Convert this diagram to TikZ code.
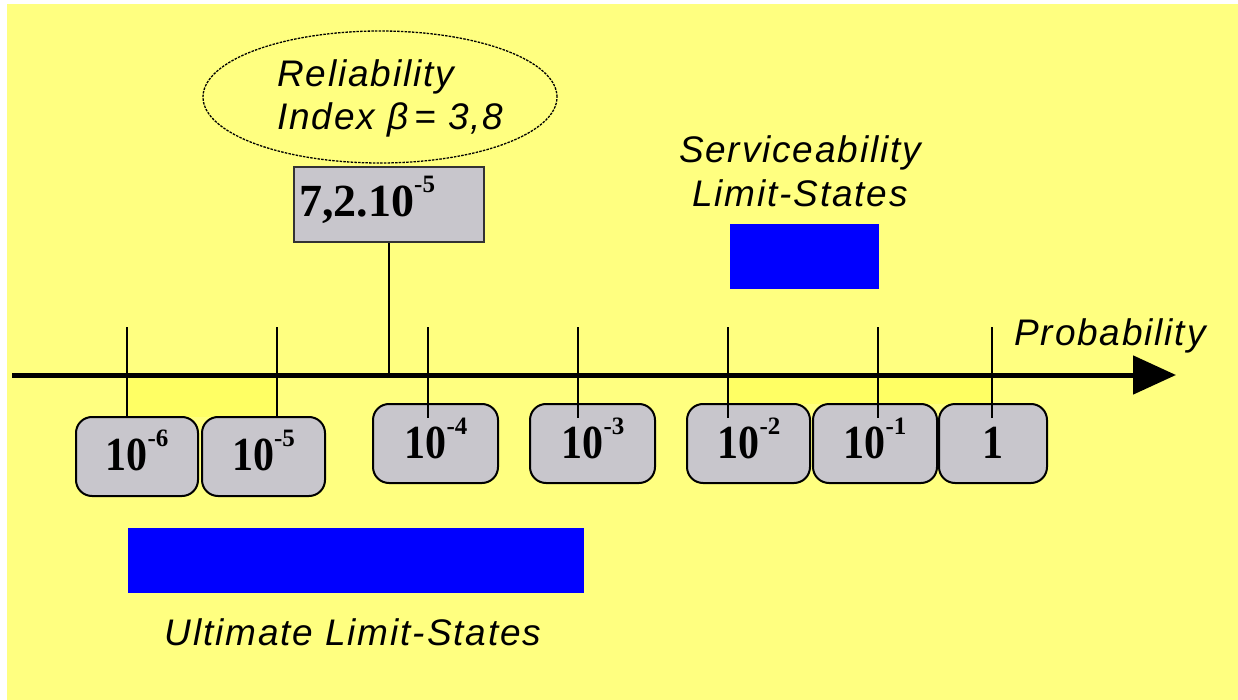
\documentclass[tikz,border=0pt]{standalone}
\usepackage{fontspec}
\setmainfont{Liberation Serif}
\setsansfont{Liberation Sans}[LetterSpace=5]
\usetikzlibrary{shapes.geometric,arrows.meta}
\definecolor{bgyellow}{RGB}{255,255,128}
\definecolor{hiyellow}{RGB}{255,255,100}
\definecolor{boxgray}{RGB}{200,198,204}
\newcommand{\supr}[1]{\raisebox{24pt}{\fontsize{25}{25}\selectfont #1}}
\newcommand{\tallnum}[1]{\scalebox{1}[1.13]{#1}}
\begin{document}
\begin{tikzpicture}[x=1pt,y=-1pt,
  probbox/.style={draw=black,line width=2pt,fill=boxgray,rounded corners=16pt,minimum height=79pt,inner sep=0pt},
  numtext/.style={font=\fontsize{42}{42}\selectfont\bfseries,anchor=base,inner sep=0pt},
  labeltext/.style={font=\fontsize{37}{37}\selectfont\sffamily\itshape,inner sep=0pt},
  tickline/.style={line width=2pt},
  bluebar/.style={fill=blue,draw=none,inner sep=0pt}]
\useasboundingbox (0,0) rectangle (1238,700);
\fill[white] (0,0) rectangle (1238,700);
\fill[bgyellow] (7,4) rectangle (1238,700);
\fill[hiyellow] (127,378) rectangle (277,417);
\fill[hiyellow] (728,378) rectangle (992,404);

% ellipse with reliability index
\node[draw=black,ellipse,dash pattern=on 2.5pt off 1.2pt,line width=1.3pt,minimum width=354pt,minimum height=132pt,inner sep=0pt] (rel) at (380,97) {};
\node[labeltext,anchor=base west] (relA) at (277,87) {Reliability};
\node[labeltext,anchor=base west] (relB) at (277,130) {Index β\,= 3,8};

% value box
\node[draw=black!80,line width=1.5pt,fill=boxgray,minimum width=190pt,minimum height=75pt,inner sep=0pt] (vb) at (389,204.5) {};
\node[numtext,font=\fontsize{46}{46}\selectfont\bfseries,anchor=base west] (vbt) at (299,217) {7,2.10\supr{-5}};

% serviceability
\node[labeltext,anchor=base] (sA) at (800,163) {Serviceability};
\node[labeltext,anchor=base] (sB) at (800,207) {Limit-States};
\node[bluebar,minimum width=149pt,minimum height=65pt] (sls) at (804.5,256.5) {};

% probability boxes
\node[probbox,minimum width=122pt] (b6) at (137,456.5) {};
\node[probbox,minimum width=123pt] (b5) at (263.5,456.5) {};
\node[probbox,minimum width=125pt] (b4) at (435.5,443.5) {};
\node[probbox,minimum width=125pt] (b3) at (592.5,443.5) {};
\node[probbox,minimum width=123pt] (b2) at (748.5,443.5) {};
\node[probbox,minimum width=124pt] (b1) at (875,443.5) {};
\node[probbox,minimum width=108pt] (b0) at (993,443.5) {};

\node[numtext] (l6) at (137,470) {\tallnum{10}\supr{-6}};
\node[numtext] (l5) at (263.5,470) {\tallnum{10}\supr{-5}};
\node[numtext] (l4) at (436,458) {\tallnum{10}\supr{-4}};
\node[numtext] (l3) at (593,458) {\tallnum{10}\supr{-3}};
\node[numtext] (l2) at (749,458) {\tallnum{10}\supr{-2}};
\node[numtext] (l1) at (875,458) {\tallnum{10}\supr{-1}};
\node[numtext] (l0) at (993,458) {\tallnum{1}};

% axis
\coordinate (axL) at (12,375);
\coordinate (axR) at (1176,375);
\draw[line width=5pt,-{Triangle[length=43pt,width=38pt]}] (axL) -- (axR);
\node[labeltext,anchor=base] (prob) at (1110,345) {Probability};

% ticks
\foreach \n/\x in {6/127,5/277,4/428,3/578,2/728,1/878,0/992}{
  \coordinate (tt\n) at (\x,327);
  \coordinate (tb\n) at (\x,418);
  \draw[tickline] (tt\n) -- (tb\n);
}
\draw[line width=1.5pt] (vb.south) -- (vb.south |- axL);

% ultimate
\node[bluebar,minimum width=456pt,minimum height=65pt] (uls) at (356,560.5) {};
\node[labeltext,anchor=base] (ulsT) at (353,645) {Ultimate Limit-States};
\end{tikzpicture}
\end{document}
